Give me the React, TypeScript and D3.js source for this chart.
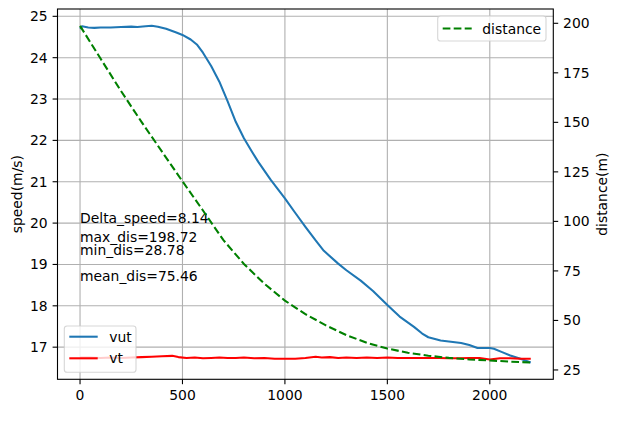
import { useRef, useEffect } from 'react';
import * as d3 from 'd3';

// vut: speed of the following vehicle (m/s)
const vutT = [0, 10, 40, 70, 100, 150, 200, 250, 280, 320, 350, 380, 420, 470, 500, 540, 570, 600, 640, 680, 720, 760, 800, 840, 870, 930, 1000, 1050, 1100, 1150, 1190, 1260, 1300, 1370, 1430, 1500, 1560, 1630, 1670, 1700, 1760, 1860, 1900, 1940, 2000, 2020, 2060, 2100, 2150, 2200];
const vutV = [24.70, 24.76, 24.73, 24.72, 24.73, 24.73, 24.74, 24.75, 24.74, 24.76, 24.77, 24.75, 24.70, 24.61, 24.55, 24.44, 24.32, 24.12, 23.80, 23.42, 22.95, 22.45, 22.05, 21.72, 21.48, 21.05, 20.60, 20.25, 19.91, 19.58, 19.33, 19.02, 18.86, 18.61, 18.36, 18.02, 17.74, 17.49, 17.33, 17.24, 17.16, 17.10, 17.05, 16.98, 16.98, 16.96, 16.88, 16.80, 16.72, 16.63];

// vt: speed of the target vehicle (m/s)
const vtT = [0, 50, 100, 150, 200, 250, 300, 350, 400, 450, 480, 520, 560, 600, 640, 680, 720, 760, 800, 850, 900, 950, 1000, 1050, 1100, 1150, 1180, 1220, 1260, 1300, 1350, 1400, 1450, 1500, 1550, 1600, 1650, 1700, 1750, 1800, 1850, 1900, 1950, 2000, 2050, 2100, 2150, 2200];
const vtV = [16.75, 16.75, 16.74, 16.75, 16.74, 16.75, 16.76, 16.77, 16.78, 16.79, 16.76, 16.74, 16.75, 16.73, 16.74, 16.75, 16.74, 16.74, 16.75, 16.73, 16.74, 16.72, 16.72, 16.72, 16.74, 16.77, 16.75, 16.76, 16.74, 16.75, 16.74, 16.75, 16.74, 16.75, 16.74, 16.74, 16.74, 16.74, 16.74, 16.73, 16.73, 16.74, 16.74, 16.70, 16.73, 16.73, 16.72, 16.72];

// distance between vehicles (m)
const distT = [0, 100, 200, 300, 400, 500, 600, 700, 800, 900, 1000, 1100, 1200, 1300, 1400, 1500, 1600, 1700, 1800, 1900, 2000, 2100, 2200];
const distV = [198.72, 182.2, 165.8, 150.2, 135.2, 120.2, 105.5, 90.5, 78.5, 68.5, 60.0, 53.2, 47.5, 42.6, 38.7, 35.8, 33.7, 32.2, 31.1, 30.3, 29.8, 29.2, 28.78];

const xTicks = [0, 500, 1000, 1500, 2000];
const speedTicks = [17, 18, 19, 20, 21, 22, 23, 24, 25];
const distTicks = [25, 50, 75, 100, 125, 150, 175, 200];

const notes = ['Delta_speed=8.14', 'max_dis=198.72', 'min_dis=28.78', 'mean_dis=75.46'];
const noteY = [20.0, 19.55, 19.22, 18.6];

const W = 618;
const H = 432;
const FONT = 'DejaVu Sans, sans-serif';
const FS = 13.9;

// matplotlib-style 5% padding
function padded(lo: number, hi: number): [number, number] {
  const m = (hi - lo) * 0.05;
  return [lo - m, hi + m];
}

export default function App() {
  const svgRef = useRef<SVGSVGElement>(null);

  useEffect(() => {
    if (!svgRef.current) return;
    const svg = d3.select(svgRef.current);
    svg.selectAll('*').remove();

    const left = 57.5, right = 553.3, top = 9, bottom = 379.3;

    const allT = [...vutT, ...vtT, ...distT];
    const x = d3.scaleLinear()
      .domain(padded(d3.min(allT)!, d3.max(allT)!))
      .range([left, right]);
    const speeds = [...vutV, ...vtV];
    const y = d3.scaleLinear()
      .domain(padded(d3.min(speeds)!, d3.max(speeds)!))
      .range([bottom, top]);
    const y2 = d3.scaleLinear()
      .domain(padded(d3.min(distV)!, d3.max(distV)!))
      .range([bottom, top]);

    svg.append('rect').attr('width', W).attr('height', H).attr('fill', '#fff');

    // grid
    const grid = svg.append('g').attr('stroke', '#b0b0b0').attr('stroke-width', 1.1);
    xTicks.forEach((t) => {
      grid.append('line').attr('x1', x(t)).attr('x2', x(t)).attr('y1', top).attr('y2', bottom);
    });
    speedTicks.forEach((t) => {
      grid.append('line').attr('x1', left).attr('x2', right).attr('y1', y(t)).attr('y2', y(t));
    });

    const clipId = 'plot-clip';
    svg.append('clipPath').attr('id', clipId)
      .append('rect').attr('x', left).attr('y', top).attr('width', right - left).attr('height', bottom - top);

    const line = (xs: number[], ys: number[], sy: d3.ScaleLinear<number, number>) =>
      d3.line<number>().x((_, i) => x(xs[i])).y((v) => sy(v))(ys) as string;

    const plot = svg.append('g').attr('clip-path', `url(#${clipId})`);
    plot.append('path').attr('d', line(vutT, vutV, y))
      .attr('fill', 'none').attr('stroke', '#1f77b4').attr('stroke-width', 2.08).attr('stroke-linejoin', 'round');
    plot.append('path').attr('d', line(vtT, vtV, y))
      .attr('fill', 'none').attr('stroke', 'red').attr('stroke-width', 2.08).attr('stroke-linejoin', 'round');

    // annotations
    notes.forEach((n, i) => {
      svg.append('text').attr('x', x(0)).attr('y', y(noteY[i]))
        .attr('font-family', FONT).attr('font-size', FS).attr('fill', '#000').text(n);
    });

    // legend for speed axis
    const lg1 = svg.append('g');
    lg1.append('rect').attr('x', 64.3).attr('y', 326).attr('width', 71.7).attr('height', 46.3)
      .attr('rx', 2.8).attr('fill', '#fff').attr('fill-opacity', 0.8)
      .attr('stroke', '#ccc').attr('stroke-opacity', 0.8).attr('stroke-width', 1.1);
    [['vut', '#1f77b4', 336.7], ['vt', 'red', 358.3]].forEach(([lab, col, ly]) => {
      lg1.append('line').attr('x1', 69.3).attr('x2', 97.7).attr('y1', ly as number).attr('y2', ly as number)
        .attr('stroke', col as string).attr('stroke-width', 2.08);
      lg1.append('text').attr('x', 109.3).attr('y', (ly as number) + 5)
        .attr('font-family', FONT).attr('font-size', FS).attr('fill', '#000').text(lab as string);
    });

    // distance line (twin axis drawn above)
    const plot2 = svg.append('g').attr('clip-path', `url(#${clipId})`);
    plot2.append('path').attr('d', line(distT, distV, y2))
      .attr('fill', 'none').attr('stroke', 'green').attr('stroke-width', 2.08)
      .attr('stroke-dasharray', '7.7,3.3');

    // spines
    svg.append('rect').attr('x', left).attr('y', top).attr('width', right - left).attr('height', bottom - top)
      .attr('fill', 'none').attr('stroke', '#000').attr('stroke-width', 1.1);

    // x ticks
    const ax = svg.append('g').attr('font-family', FONT).attr('font-size', FS).attr('fill', '#000');
    xTicks.forEach((t) => {
      ax.append('line').attr('x1', x(t)).attr('x2', x(t)).attr('y1', bottom).attr('y2', bottom + 4.9)
        .attr('stroke', '#000').attr('stroke-width', 1.1);
      ax.append('text').attr('x', x(t)).attr('y', bottom + 20.5).attr('text-anchor', 'middle').text(t);
    });
    speedTicks.forEach((t) => {
      ax.append('line').attr('x1', left - 4.9).attr('x2', left).attr('y1', y(t)).attr('y2', y(t))
        .attr('stroke', '#000').attr('stroke-width', 1.1);
      ax.append('text').attr('x', left - 9.8).attr('y', y(t)).attr('dy', '0.36em')
        .attr('text-anchor', 'end').text(t);
    });
    distTicks.forEach((t) => {
      ax.append('line').attr('x1', right).attr('x2', right + 4.9).attr('y1', y2(t)).attr('y2', y2(t))
        .attr('stroke', '#000').attr('stroke-width', 1.1);
      ax.append('text').attr('x', right + 9.8).attr('y', y2(t)).attr('dy', '0.36em')
        .attr('text-anchor', 'start').text(t);
    });

    const midY = (top + bottom) / 2;
    ax.append('text').attr('transform', `translate(22,${midY}) rotate(-90)`)
      .attr('text-anchor', 'middle').text('speed(m/s)');
    ax.append('text').attr('transform', `translate(606.5,${midY}) rotate(-90)`)
      .attr('text-anchor', 'middle').text('distance(m)');

    // legend for distance axis
    const lg2 = svg.append('g');
    lg2.append('rect').attr('x', 437.7).attr('y', 16).attr('width', 108.3).attr('height', 25)
      .attr('rx', 2.8).attr('fill', '#fff').attr('fill-opacity', 0.8)
      .attr('stroke', '#ccc').attr('stroke-opacity', 0.8).attr('stroke-width', 1.1);
    lg2.append('line').attr('x1', 442.7).attr('x2', 471.7).attr('y1', 28.5).attr('y2', 28.5)
      .attr('stroke', 'green').attr('stroke-width', 2.08).attr('stroke-dasharray', '7.7,3.3');
    lg2.append('text').attr('x', 482.3).attr('y', 33.5)
      .attr('font-family', FONT).attr('font-size', FS).attr('fill', '#000').text('distance');
  }, []);

  return (
    <div style={{ position: 'absolute', left: 0, top: 0 }}>
      <svg ref={svgRef} width={W} height={H} style={{ display: 'block' }} />
    </div>
  );
}
